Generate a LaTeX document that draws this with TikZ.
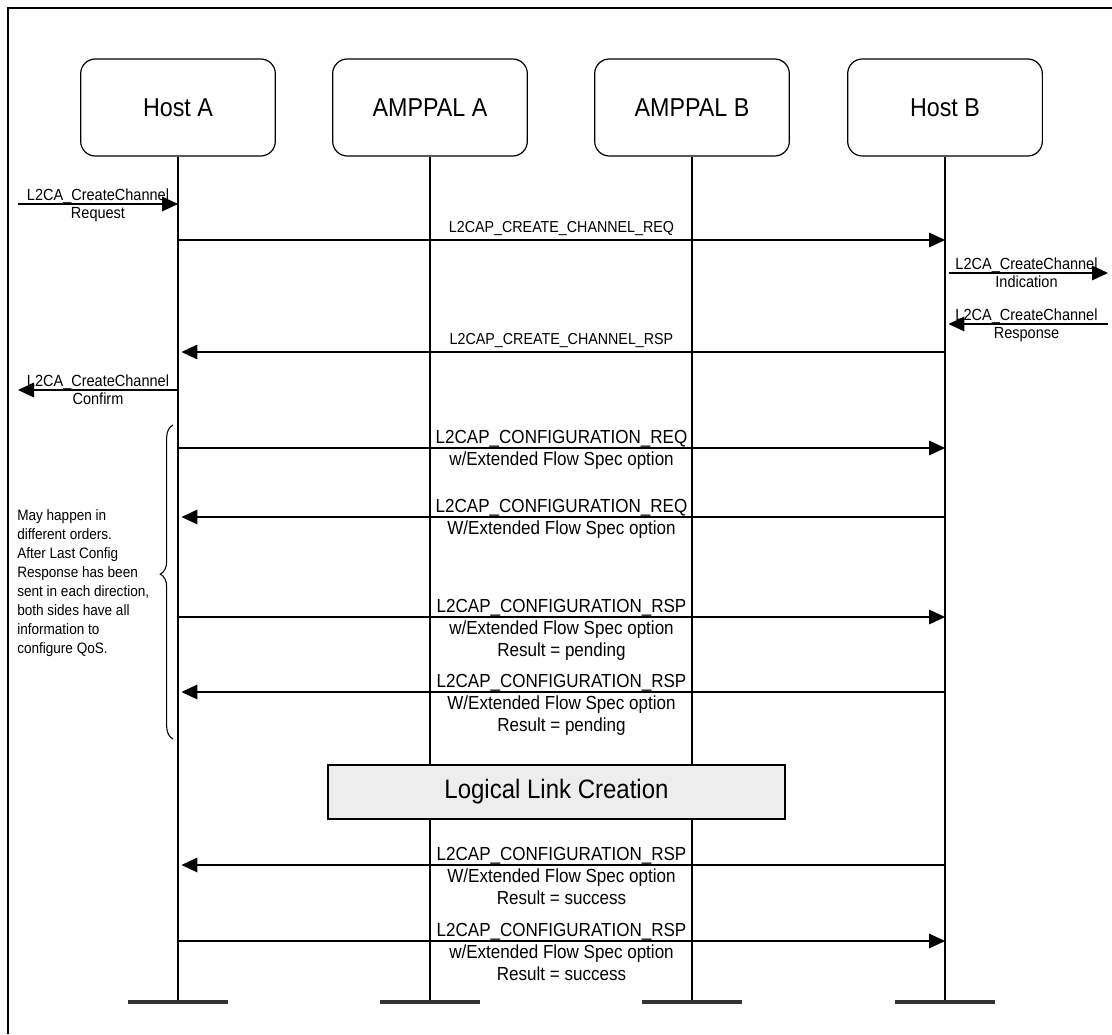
\documentclass[tikz,border=0pt]{standalone}
\usepackage{fontspec}
\setmainfont{Liberation Sans}[FakeStretch=0.9]
\usepackage{tikz}
\usetikzlibrary{
    arrows.meta,
    calc,
    decorations.pathreplacing
}

\begin{document}
\begin{tikzpicture}[x=0.75pt, y=-0.75pt,
    party/.style={draw, line width=0.9pt, rounded corners=11pt,
        minimum width=146pt, minimum height=72.75pt,
        font=\fontsize{19.4pt}{22pt}\selectfont},
    lifeline/.style={line width=1.1pt},
    endbar/.style={line width=2.3pt, black!80},
    msg/.style={line width=0.9pt, -{Triangle[length=12pt, width=11pt]}},
    back/.style={msg, shorten >=2.6pt},
    msglabel/.style={anchor=base, inner sep=0pt, yshift=5.4pt,
        font=\fontsize{11.9pt}{13pt}\selectfont},
    extlabel/.style={anchor=north, align=center, inner sep=0pt, yshift=11.7pt,
        font=\fontsize{12.1pt}{13.5pt}\selectfont},
    cfglabel/.style={anchor=north, align=center, inner sep=0pt, yshift=13.9pt,
        font=\fontsize{14.2pt}{16.5pt}\selectfont},
    linkbox/.style={draw, line width=1.1pt, fill=black!7,
        minimum width=342.75pt, minimum height=40.5pt,
        font=\fontsize{20pt}{23pt}\selectfont},
    note/.style={align=left, inner sep=0pt,
        font=\fontsize{11.3pt}{14.25pt}\selectfont}
]

\useasboundingbox (0,0) rectangle (1112,1034);

% Frame
\draw[line width=1.5pt] (8,1034) -- (8,8) -- (1112,8);

% Participants
\node[party] (hostA) at (178,107.5) {Host A};
\node[party] (amppalA) at (430,107.5) {AMPPAL A};
\node[party] (amppalB) at (692,107.5) {AMPPAL B};
\node[party] (hostB) at (945,107.5) {Host B};

% Outside ends
\coordinate (envA) at (18,0);
\coordinate (envB) at (1108,0);

% Lifelines
\foreach \p in {hostA,amppalA,amppalB,hostB} {
    \coordinate (\p end) at (\p |- 0,1002);
    \draw[lifeline] (\p) -- (\p end);
    \draw[endbar] ($(\p end)+(-50,0)$) -- ($(\p end)+(50,0)$);
}

% Channel creation
\draw[msg] (envA |- 0,204) -- node[extlabel] {L2CA\_CreateChannel\\Request} (hostA |- 0,204);
\draw[msg] (hostA |- 0,240) -- node[msglabel] {L2CAP\_CREATE\_CHANNEL\_REQ} (hostB |- 0,240);
\draw[msg, shorten <=3pt] (hostB |- 0,273) -- node[extlabel] {L2CA\_CreateChannel\\Indication} (envB |- 0,273);
\draw[back] (envB |- 0,324) -- node[extlabel] {L2CA\_CreateChannel\\Response} (hostB |- 0,324);
\draw[back] (hostB |- 0,352) -- node[msglabel] {L2CAP\_CREATE\_CHANNEL\_RSP} (hostA |- 0,352);
\draw[msg] (hostA |- 0,390) -- node[extlabel] {L2CA\_CreateChannel\\Confirm} (envA |- 0,390);

% Configuration
\draw[msg] (hostA |- 0,448) -- node[cfglabel] {L2CAP\_CONFIGURATION\_REQ\\w/Extended Flow Spec option} (hostB |- 0,448);
\draw[back] (hostB |- 0,517) -- node[cfglabel] {L2CAP\_CONFIGURATION\_REQ\\W/Extended Flow Spec option} (hostA |- 0,517);
\draw[msg] (hostA |- 0,617) -- node[cfglabel] {L2CAP\_CONFIGURATION\_RSP\\w/Extended Flow Spec option\\Result = pending} (hostB |- 0,617);
\draw[back] (hostB |- 0,692) -- node[cfglabel] {L2CAP\_CONFIGURATION\_RSP\\W/Extended Flow Spec option\\Result = pending} (hostA |- 0,692);

% Brace and note
\draw[decorate, decoration={brace, amplitude=9.5pt, aspect=0.525}, line width=0.8pt]
    (173,739) -- (173,425);
\node[note, anchor=north west] (order) at (17,509) {May happen in\\different orders.\\After Last Config\\Response has been\\sent in each direction,\\both sides have all\\information to\\configure QoS.};

% Logical link
\node[linkbox] (llc) at (556.5,792) {Logical Link Creation};

\draw[back] (hostB |- 0,865) -- node[cfglabel] {L2CAP\_CONFIGURATION\_RSP\\W/Extended Flow Spec option\\Result = success} (hostA |- 0,865);
\draw[msg] (hostA |- 0,941) -- node[cfglabel] {L2CAP\_CONFIGURATION\_RSP\\w/Extended Flow Spec option\\Result = success} (hostB |- 0,941);

\end{tikzpicture}
\end{document}
